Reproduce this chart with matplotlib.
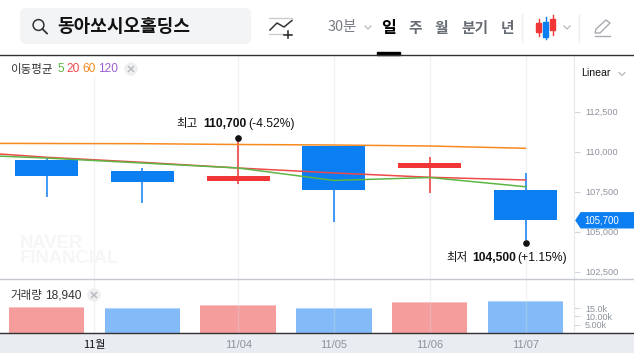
import matplotlib
matplotlib.use('Agg')
import matplotlib.pyplot as plt
from matplotlib.patches import Rectangle, FancyBboxPatch, Circle, Polygon

plt.rcParams['font.family'] = ['Noto Sans CJK KR', 'DejaVu Sans']

W, H = 634, 353

# Datos del gráfico
apertura = [109500, 108800, 108150, 110350, 109000, 107600]
cierre = [108500, 108100, 108500, 107600, 109300, 105700]
maximo = [109650, 109000, 110700, 110350, 109650, 108650]
minimo = [107150, 106800, 108000, 105600, 107400, 104500]
ma60 = [110512, 110500, 110488, 110438, 110406, 110344, 110200]
ma20 = [110060, 109640, 109325, 108970, 108660, 108390, 108220]
ma5 = [109840, 109590, 109280, 108970, 108190, 108375, 107800]
volumen = [15600, 14800, 16800, 14800, 18600, 18940]
volumen_sube = [True, False, True, False, True, False]
precio_ticks = [102500, 105000, 107500, 110000, 112500]
volumen_ticks = [5000, 10000, 15000]
volumen_labels = ['5.00k', '10.00k', '15.0k']
x_ticks = [0.5, 2, 3, 4, 5]
x_labels = ['11월', '11/04', '11/05', '11/06', '11/07']

AZUL = '#0b7ff2'
ROJO = '#f03636'
GRIS = '#8d939d'
REJILLA = '#f1f2f5'
PASO = 95.8
X0 = 46.5


def px_precio(p):
    return 151.5 + (110000 - p) / 62.5


def caja(y_arriba, y_abajo):
    return [0, 1 - y_abajo / H, 574 / W, (y_abajo - y_arriba) / H]


fig = plt.figure(figsize=(W / 100, H / 100), dpi=100)
fig.add_artist(Rectangle((0, 0), 1, 20 / H, transform=fig.transFigure, color='#e9ecf1', zorder=-1))

# Panel de precios
ax = fig.add_axes(caja(55, 278.5), facecolor='none')
xlim = (-X0 / PASO, (574 - X0) / PASO)
ax.set_xlim(xlim)
ax.set_ylim(110000 - (278.5 - 151.5) * 62.5, 110000 + (151.5 - 55) * 62.5)
idx = list(range(6))
for i in idx:
    color = ROJO if cierre[i] >= apertura[i] else AZUL
    ax.vlines(i, minimo[i], maximo[i], color=color, linewidth=1.1, zorder=2)
    ax.bar(i, abs(cierre[i] - apertura[i]), bottom=min(cierre[i], apertura[i]), width=0.657, color=color, zorder=3)
idx_ma = list(range(-1, 6))
ax.plot(idx_ma, ma60, color='#f68a1f', linewidth=1.1, zorder=4)
ax.plot(idx_ma, ma20, color='#ee4a4a', linewidth=1.1, zorder=4)
ax.plot(idx_ma, ma5, color='#5db544', linewidth=1.1, zorder=4)
ax.plot([2, 5], [maximo[2] + 170, minimo[5] - 240], 'o', color='#111111', markersize=3.8, zorder=5)
ax.yaxis.tick_right()
ax.set_yticks(precio_ticks)
ax.set_yticklabels([f'{v:,}' for v in precio_ticks], fontsize=6.6, color=GRIS, family='Liberation Sans')
ax.set_xticks(x_ticks)
ax.set_xticklabels([])
ax.tick_params(axis='x', length=0)
ax.tick_params(axis='y', length=4, width=0.8, color='#d5d8de', pad=4)
ax.grid(True, axis='x', color=REJILLA, linewidth=1)
ax.set_axisbelow(True)
for lado in ['top', 'left', 'bottom']:
    ax.spines[lado].set_visible(False)
ax.spines['right'].set_color('#e6e8ec')

# Panel de volumen
ax2 = fig.add_axes(caja(278.5, 333), facecolor='none')
ax2.set_xlim(xlim)
ax2.set_ylim(0, (333 - 278.5) * 600)
for i in idx:
    sube = volumen_sube[i]
    ax2.bar(i, volumen[i], width=0.785, color='#f59c9c' if sube else '#82bbf8', zorder=1)
    ax2.bar(i, 600, bottom=volumen[i] - 600, width=0.785, color='#f9c3c3' if sube else '#b3d5fb', zorder=1)
ax2.yaxis.tick_right()
ax2.set_yticks(volumen_ticks)
ax2.set_yticklabels(volumen_labels, fontsize=6.5, color=GRIS, family='Liberation Sans')
ax2.set_xticks(x_ticks)
ax2.set_xticklabels(x_labels, fontsize=8, color=GRIS, family='Liberation Sans')
ax2.get_xticklabels()[0].set_color('#111111')
ax2.get_xticklabels()[0].set_family(['Noto Sans CJK KR'])
ax2.get_xticklabels()[0].set_fontweight('medium')
ax2.tick_params(axis='x', length=0, pad=5)
ax2.tick_params(axis='y', length=4, width=0.8, color='#d5d8de', pad=4)
ax2.grid(True, axis='x', color='#d8dadf', alpha=0.35, linewidth=1, zorder=2)
ax2.set_axisbelow(False)
for lado in ['top', 'left', 'bottom']:
    ax2.spines[lado].set_visible(False)
ax2.spines['right'].set_color('#e6e8ec')

# Capa de interfaz en coordenadas de pixel
ui = fig.add_axes([0, 0, 1, 1], facecolor='none')
ui.set_xlim(0, W)
ui.set_ylim(H, 0)
ui.axis('off')

ui.add_patch(Rectangle((1, 56), 140, 20, color='white', zorder=1))
ui.plot([0, W], [55, 55], color='#333333', linewidth=1)
ui.plot([0, W], [278.5, 278.5], color='#c5c9d0', linewidth=1)
ui.plot([0, W], [333.2, 333.2], color='#333333', linewidth=1)

# Barra superior
ui.add_patch(FancyBboxPatch((20, 8), 231, 36, boxstyle='round,pad=0,rounding_size=6', linewidth=0, color='#f3f4f6'))
ui.add_patch(Circle((38.5, 25), 5.4, fill=False, edgecolor='#333333', linewidth=1.1))
ui.plot([42.5, 47], [29, 33.5], color='#333333', linewidth=1.3)
ui.text(57, 27, '동아쏘시오홀딩스', fontsize=13, fontweight='bold', color='#111111', va='center')

ui.plot([269, 292], [17.5, 17.5], color='#c9ccd1', linewidth=1)
ui.plot([269, 283], [33.5, 33.5], color='#c9ccd1', linewidth=1)
ui.plot([270, 277, 284, 292], [30, 23, 27, 20.5], color='#333333', linewidth=1.1)
ui.plot([284, 292], [34.5, 34.5], color='#222222', linewidth=1.1)
ui.plot([288, 288], [31, 38], color='#222222', linewidth=1.1)

for txt, x, col, peso, tam in [('30분', 342, '#777c85', 'normal', 10.4), ('일', 389, '#000000', 'bold', 11.5),
                               ('주', 415, '#666b74', 'bold', 10.6), ('월', 441, '#666b74', 'bold', 10.6),
                               ('분기', 474.5, '#666b74', 'bold', 10.6), ('년', 507.5, '#666b74', 'bold', 10.6)]:
    ui.text(x, 27.5, txt, fontsize=tam, color=col, fontweight=peso, ha='center', va='center')
ui.add_patch(Rectangle((377, 52), 23, 3, color='black'))
for xc, yc in [(368, 27.5), (567, 27.5), (622, 74)]:
    ui.plot([xc - 3, xc, xc + 3], [yc - 1.5, yc + 1.5, yc - 1.5], color='#b5b8be', linewidth=0.9)
for xs in [521.5, 578.5]:
    ui.plot([xs, xs], [14, 42], color='#eeeff1', linewidth=1)

# Iconos de velas y lapiz
ui.plot([538.5, 538.5], [19, 36], color=ROJO, linewidth=1)
ui.add_patch(Rectangle((536, 23), 5, 9, color=ROJO))
ui.plot([545.5, 545.5], [17, 39], color=AZUL, linewidth=1)
ui.add_patch(Rectangle((543, 22), 5, 15, color=AZUL))
ui.plot([552.5, 552.5], [15, 35], color=ROJO, linewidth=1)
ui.add_patch(Rectangle((550, 19), 5, 11, color=ROJO))
ui.add_patch(Polygon([(595, 33), (596, 29), (606, 20), (610, 23), (600, 33)], fill=False, edgecolor='#a9acb2', linewidth=1))
ui.plot([595, 610], [35.5, 35.5], color='#a9acb2', linewidth=1)

# Leyendas
ui.text(10, 69, '이동평균', fontsize=8.3, color='#333333', va='center')
for txt, x, col in [('5', 57, '#5db544'), ('20', 66.5, '#ee4a4a'), ('60', 82.5, '#f68a1f'), ('120', 98, '#a05fd0')]:
    ui.text(x, 69, txt, fontsize=8.6, color=col, va='center', family='Liberation Sans')
ui.text(10, 295, '거래량', fontsize=8.3, color='#333333', va='center')
ui.text(45, 295, '18,940', fontsize=8.6, color='#333333', va='center', family='Liberation Sans')
for xc, yc in [(131, 69), (94, 295)]:
    ui.add_patch(Circle((xc, yc), 6, color='#efefef', zorder=3))
    ui.plot([xc - 2.5, xc + 2.5], [yc - 2.5, yc + 2.5], color='#b5b8be', linewidth=1, zorder=4)
    ui.plot([xc - 2.5, xc + 2.5], [yc + 2.5, yc - 2.5], color='#b5b8be', linewidth=1, zorder=4)
ui.text(581, 73.5, 'Linear', fontsize=7.6, color='#111111', va='center', family='Liberation Sans')

# Marca de agua
ui.text(20, 251, 'NAVER\nFINANCIAL', fontsize=13.2, fontweight='bold', color='#f5f6f8', va='center',
        family='Liberation Sans', linespacing=0.8, zorder=0)

# Etiquetas de maximo y minimo
ui.text(176, 124, '최고', fontsize=8.3, color='#111111', va='center')
ui.text(203.5, 124, f'{maximo[2]:,}', fontsize=8.7, fontweight='bold', color='#111111', va='center', family='Liberation Sans')
ui.text(248.5, 124, '(-4.52%)', fontsize=8.7, color='#111111', va='center', family='Liberation Sans')
ui.text(446.5, 258, '최저', fontsize=8.3, color='#111111', va='center')
ui.text(472, 258, f'{minimo[5]:,}', fontsize=8.7, fontweight='bold', color='#111111', va='center', family='Liberation Sans')
ui.text(517, 258, '(+1.15%)', fontsize=8.7, color='#111111', va='center', family='Liberation Sans')

# Precio actual
y_tag = px_precio(cierre[5])
ui.add_patch(Polygon([(576, y_tag), (581, y_tag - 7.5), (W, y_tag - 7.5), (W, y_tag + 7.5), (581, y_tag + 7.5)], color=AZUL, zorder=5))
ui.text(584, y_tag, f'{cierre[5]:,}', fontsize=6.9, color='white', va='center', family='Liberation Sans', zorder=6)

fig.savefig('out.png', dpi=100)
